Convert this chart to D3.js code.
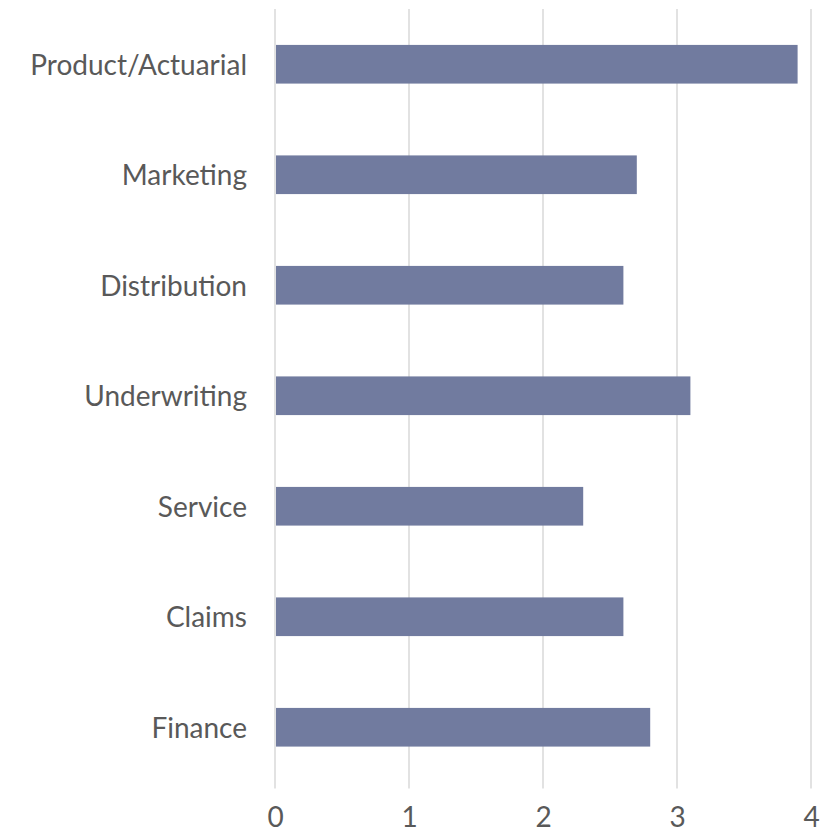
<!DOCTYPE html>
<html>
<head>
<meta charset="utf-8">
<script src="https://cdn.jsdelivr.net/npm/d3@7"></script>
<style>
  body { margin: 0; background: #fff; }
  svg text { font-family: Lato, "Open Sans", sans-serif; fill: #595959; }
</style>
</head>
<body>
<div id="chart"></div>
<script>
  // categories top to bottom
  let categories = ["Product/Actuarial", "Marketing", "Distribution", "Underwriting", "Service", "Claims", "Finance"];
  let values = [3.9, 2.7, 2.6, 3.1, 2.3, 2.6, 2.8];
  let tickValues = [0, 1, 2, 3, 4];

  let width = 831, height = 835;
  let margin = { top: 9, left: 275 };
  let plotW = 811 - margin.left;
  let plotH = 773.5;

  let svg = d3.select("#chart")
    .append("svg")
      .attr("width", width)
      .attr("height", height)
    .append("g")
      .attr("transform", "translate(" + margin.left + ", " + margin.top + ")");

  let xScale = d3.scaleLinear()
    .domain([0, 4])
    .range([0, plotW]);

  let yScale = d3.scaleBand()
    .domain(categories)
    .range([0, plotH])
    .paddingInner(0.65)
    .paddingOuter(0.325);

  // vertical gridlines
  svg.selectAll(".grid")
    .data(tickValues)
    .enter()
    .append("line")
      .attr("class", "grid")
      .attr("x1", d => xScale(d))
      .attr("x2", d => xScale(d))
      .attr("y1", 0)
      .attr("y2", plotH + 6)
      .attr("stroke", "#d9d9d9")
      .attr("stroke-width", 1.5);

  // bars
  svg.selectAll(".bar")
    .data(categories)
    .enter()
    .append("rect")
      .attr("class", "bar")
      .attr("x", xScale(0) + 1)
      .attr("y", d => yScale(d))
      .attr("width", (d, i) => xScale(values[i]) - xScale(0) - 1)
      .attr("height", yScale.bandwidth())
      .attr("fill", "#717b9f");

  // x axis labels
  let xAxis = d3.axisBottom(xScale)
    .tickValues(tickValues)
    .tickFormat(d3.format("d"))
    .tickSize(0)
    .tickPadding(25);
  let gx = svg.append("g")
    .attr("transform", "translate(0, " + plotH + ")")
    .call(xAxis);
  gx.select(".domain").remove();
  gx.selectAll("text")
    .style("font-size", "28px")
    .attr("fill", "#595959");

  // y axis labels
  let yAxis = d3.axisLeft(yScale)
    .tickSize(0)
    .tickPadding(28);
  let gy = svg.append("g").call(yAxis);
  gy.select(".domain").remove();
  gy.selectAll("text")
    .style("font-size", "28px")
    .attr("dy", "0.38em")
    .attr("fill", "#595959");
</script>
</body>
</html>
